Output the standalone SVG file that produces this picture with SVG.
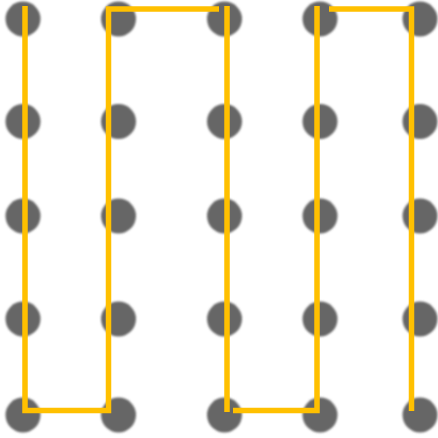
<svg xmlns="http://www.w3.org/2000/svg" width="438" height="438" viewBox="0 0 438 438">
<style>
.dot{fill:#666666;filter:url(#soft)}
.wire{fill:none;stroke:#FFC000;stroke-width:5.5;stroke-linecap:butt;stroke-linejoin:miter}
</style>
<defs>
<filter id="soft" x="-20%" y="-20%" width="140%" height="140%"><feGaussianBlur stdDeviation="0.9"/></filter>
</defs>
<rect width="438" height="438" fill="#ffffff"/>
<g id="nodes">
<g id="n-0-0"><circle class="dot" cx="23" cy="19" r="17.5"/></g>
<g id="n-1-0"><circle class="dot" cx="118.5" cy="19" r="17.5"/></g>
<g id="n-2-0"><circle class="dot" cx="224.5" cy="19" r="17.5"/></g>
<g id="n-3-0"><circle class="dot" cx="320" cy="19" r="17.5"/></g>
<g id="n-4-0"><circle class="dot" cx="420" cy="19" r="17.5"/></g>
<g id="n-0-1"><circle class="dot" cx="23" cy="121.5" r="17.5"/></g>
<g id="n-1-1"><circle class="dot" cx="118.5" cy="121.5" r="17.5"/></g>
<g id="n-2-1"><circle class="dot" cx="224.5" cy="121.5" r="17.5"/></g>
<g id="n-3-1"><circle class="dot" cx="320" cy="121.5" r="17.5"/></g>
<g id="n-4-1"><circle class="dot" cx="420" cy="121.5" r="17.5"/></g>
<g id="n-0-2"><circle class="dot" cx="23" cy="216" r="17.5"/></g>
<g id="n-1-2"><circle class="dot" cx="118.5" cy="216" r="17.5"/></g>
<g id="n-2-2"><circle class="dot" cx="224.5" cy="216" r="17.5"/></g>
<g id="n-3-2"><circle class="dot" cx="320" cy="216" r="17.5"/></g>
<g id="n-4-2"><circle class="dot" cx="420" cy="216" r="17.5"/></g>
<g id="n-0-3"><circle class="dot" cx="23" cy="319" r="17.5"/></g>
<g id="n-1-3"><circle class="dot" cx="118.5" cy="319" r="17.5"/></g>
<g id="n-2-3"><circle class="dot" cx="224.5" cy="319" r="17.5"/></g>
<g id="n-3-3"><circle class="dot" cx="320" cy="319" r="17.5"/></g>
<g id="n-4-3"><circle class="dot" cx="420" cy="319" r="17.5"/></g>
<g id="n-0-4"><circle class="dot" cx="23" cy="415" r="17.5"/></g>
<g id="n-1-4"><circle class="dot" cx="118.5" cy="415" r="17.5"/></g>
<g id="n-2-4"><circle class="dot" cx="224.5" cy="415" r="17.5"/></g>
<g id="n-3-4"><circle class="dot" cx="320" cy="415" r="17.5"/></g>
<g id="n-4-4"><circle class="dot" cx="420" cy="415" r="17.5"/></g>
</g>
<g id="connectors">
<path class="wire" d="M25,6 V410.5 H108.5 V9 H219"/>
<path class="wire" d="M227,6 V412"/>
<path class="wire" d="M233,410.5 H317 V6"/>
<path class="wire" d="M329,9 H411.5 V411"/>
</g>
</svg>
